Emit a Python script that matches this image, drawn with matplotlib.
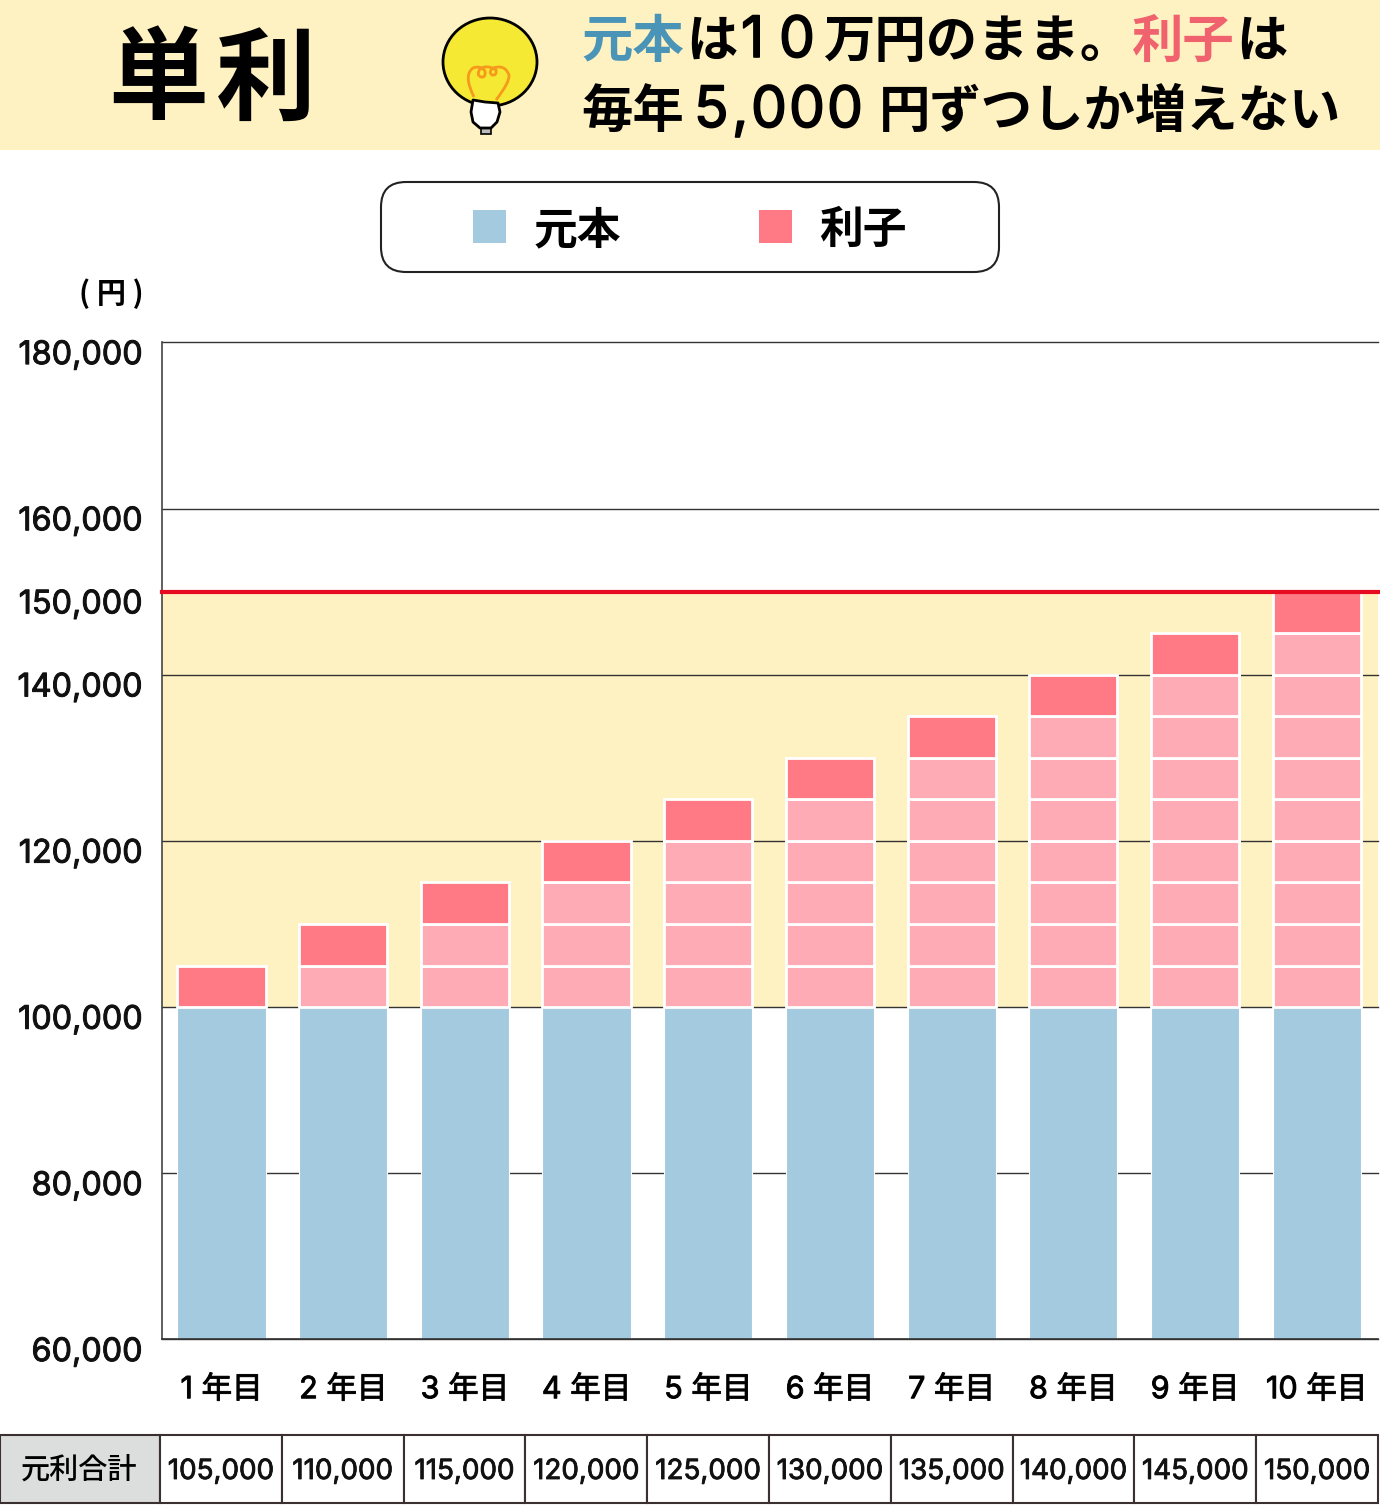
import matplotlib
matplotlib.use("Agg")
import matplotlib.pyplot as plt
import matplotlib.patheffects as pe
from matplotlib.patches import Rectangle, FancyBboxPatch, Ellipse, PathPatch
from matplotlib.path import Path

plt.rcParams['font.family'] = ['Noto Sans CJK JP', 'DejaVu Sans']
LATIN = ['Inter', 'Noto Sans CJK JP']

W, H = 1380, 1510

years = ['1 年目', '2 年目', '3 年目', '4 年目', '5 年目', '6 年目', '7 年目', '8 年目', '9 年目', '10 年目']
principal = [100000] * 10
interest_counts = [1, 2, 3, 4, 5, 6, 7, 8, 9, 10]
interest_step = 5000
totals = ['105,000', '110,000', '115,000', '120,000', '125,000',
          '130,000', '135,000', '140,000', '145,000', '150,000']
y_ticks = [60000, 80000, 100000, 120000, 140000, 150000, 160000, 180000]
grid_lines = [60000, 80000, 100000, 120000, 140000, 160000, 180000]
tick_labels = ['60,000', '80,000', '100,000', '120,000', '140,000', '150,000', '160,000', '180,000']

BLUE = '#A4CAE0'
PINK = '#FFABB5'
RED_PINK = '#FF7A84'
CREAM = '#FFF2C2'


def heavy(width, color='#111111'):
    # Inter only comes in one weight here, so thicken it a little
    return [pe.withStroke(linewidth=width, foreground=color)]


fig = plt.figure(figsize=(W / 100, H / 100), dpi=100)

# overlay in pixel coordinates, for header, legend and table
over = fig.add_axes([0, 0, 1, 1], zorder=1)
over.set_xlim(0, W)
over.set_ylim(H, 0)
over.axis('off')

# main chart
ax = fig.add_axes([162 / W, 1 - 1339.4 / H, (1378 - 162) / W, (1339.4 - 342.4) / H], zorder=2)
ax.set_facecolor('none')
ax.set_xlim(-0.489, 9.504)
ax.set_ylim(60000, 180000)
for s in ['top', 'right', 'bottom']:
    ax.spines[s].set_visible(False)
ax.spines['left'].set_color('#444444')
ax.spines['left'].set_linewidth(1.2)

ax.axhspan(100000, 150000, color=CREAM, lw=0, zorder=0)
for g in grid_lines:
    ax.axhline(g, color='#333333', lw=1.0, zorder=1, clip_on=False)
ax.axhline(60000, color='#333333', lw=1.2, zorder=5, clip_on=False)

pos = list(range(len(years)))
bar_w = 0.725
ax.bar(pos, principal, width=bar_w, color=BLUE, edgecolor='white', linewidth=0.8, zorder=2)
for i in pos:
    base = principal[i]
    for n in range(interest_counts[i]):
        col = RED_PINK if n == interest_counts[i] - 1 else PINK
        ax.bar(i, interest_step, bottom=base, width=bar_w, color=col,
               edgecolor='white', linewidth=2, zorder=3)
        base += interest_step
ax.plot([0, 1], [150000, 150000], transform=ax.get_yaxis_transform(), color='#E60B1E',
        lw=3, zorder=4, clip_on=False)

ax.set_xticks(pos)
ax.set_xticklabels(years, fontsize=22, family=LATIN, path_effects=heavy(0.7))
ax.tick_params(axis='x', length=0, pad=26.5)
ax.set_yticks([])
for t, lab in zip(y_ticks, tick_labels):
    ax.annotate(lab, xy=(0, t), xycoords=ax.get_yaxis_transform(), xytext=(-14.5, -9.5),
                textcoords='offset points', ha='right', va='center', fontsize=23.3,
                color='#111111', family=LATIN, path_effects=heavy(0.7))

# header
over.add_patch(Rectangle((0, 0), W, 150, color=CREAM, lw=0))
over.text(158, 82, '単', fontsize=72, fontweight='bold', ha='center', va='center')
over.text(266, 82, '利', fontsize=72, fontweight='bold', ha='center', va='center')


def run(x, y, s, color='black', size=37):
    over.text(x, y, s, fontsize=size, color=color, fontweight='bold', ha='left', va='center')


def digits(x, y, s):
    # header digits are set wide, one character at a time
    for ch in s:
        over.text(x, y, ch, fontsize=41, family=LATIN, ha='left', va='center',
                  path_effects=heavy(1.2, 'black'))
        x += 19 if ch == ',' else 38


run(581, 41, '元本', '#4A94B8')
run(686, 41, 'は')
digits(741, 42, '10')
run(823, 41, '万円のまま。')
run(1132, 41, '利子', '#F0636E')
run(1236, 41, 'は')
run(581, 111, '毎年')
digits(694, 112, '5,000')
run(879, 111, '円ずつしか増えない')

# light bulb
over.add_patch(Ellipse((490, 62), 94, 88, fc='#F5E933', ec='black', lw=2, zorder=3))
over.add_patch(Rectangle((481, 128), 10, 6, fc='#BBBBBB', ec='black', lw=1.2, zorder=3))
over.add_patch(PathPatch(Path(
    [(473, 100), (471, 112), (473, 122), (480, 128), (491, 128), (497, 122), (500, 112), (498, 103), (485, 102), (473, 100)],
    [Path.MOVETO, Path.LINETO, Path.LINETO, Path.LINETO, Path.LINETO, Path.LINETO, Path.LINETO, Path.LINETO, Path.LINETO, Path.CLOSEPOLY]),
    fc='white', ec='black', lw=2, joinstyle='round', zorder=4))
over.add_patch(PathPatch(Path(
    [(474, 97), (463, 75), (473, 68), (480, 65), (485, 71), (486, 78), (481, 77), (476, 75), (480, 69),
     (487, 64), (496, 70), (497, 76), (492, 75), (488, 72), (493, 68), (505, 64), (509, 75), (510, 82), (496, 100)],
    [Path.MOVETO] + [Path.CURVE3] * 18), fc='none', ec='#F59A1C', lw=2, zorder=4))

# legend box
over.add_patch(FancyBboxPatch((381 + 25, 182 + 25), 618 - 50, 90 - 50, boxstyle='round,pad=25,rounding_size=25',
                              fc='white', ec='#222222', lw=1.5))
over.add_patch(Rectangle((473, 210), 33, 33, color=BLUE, lw=0))
over.add_patch(Rectangle((759, 210), 33, 33, color=RED_PINK, lw=0))
over.text(577, 230, '元本', fontsize=31.5, fontweight='bold', ha='center', va='center')
over.text(863, 230, '利子', fontsize=31.5, fontweight='bold', ha='center', va='center')
over.text(111, 294, '( 円 )', fontsize=21, fontweight='bold', ha='center', va='center')

# table under the chart
tbl_top, tbl_bot = 1435, 1503
over.add_patch(Rectangle((0, tbl_top), 160, tbl_bot - tbl_top, fc='#DCDDDD', ec='#3A3030', lw=1.5))
over.text(79, 1471, '元利合計', fontsize=21, fontweight='medium', ha='center', va='center')
cell_w = 121.8
for i, tot in enumerate(totals):
    x0 = 160 + i * cell_w
    over.add_patch(Rectangle((x0, tbl_top), cell_w, tbl_bot - tbl_top, fc='white', ec='#3A3030', lw=1.5))
    over.text(x0 + cell_w / 2, 1472, tot, fontsize=20, ha='center', va='center',
              color='#111111', family=LATIN, path_effects=heavy(0.6))

fig.savefig('out.png', dpi=100)
